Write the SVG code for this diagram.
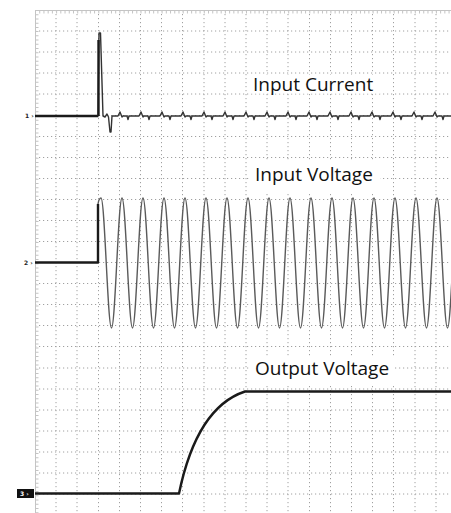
<svg xmlns="http://www.w3.org/2000/svg" width="451" height="513" viewBox="0 0 451 513">
<style>
.grid{fill:none;stroke:#a0a0a0;stroke-width:1;stroke-dasharray:1.2 2.8}
.border{fill:none;stroke:#c4c4c4;stroke-width:1}
.ticks{fill:none;stroke:#c4c4c4;stroke-width:3;stroke-dasharray:1 3.22}
.trace{fill:none;stroke:#1a1a1a;stroke-width:2.4;stroke-linejoin:round}
.thin{fill:none;stroke:#333;stroke-width:1.4;stroke-linejoin:round}
.sine{fill:none;stroke:#5a5a5a;stroke-width:1.4;stroke-linejoin:round}
.lbl{font-family:'Open Sans','Noto Sans',sans-serif;font-size:19px;fill:#111}
.ch{font-family:'DejaVu Sans',sans-serif;font-size:6px;font-weight:bold;fill:#222}
.bg{fill:#fff}
</style>
<rect width="451" height="513" fill="#fff"/>
<g id="grid">
<path class="grid" d="M35,31H451M35,52H451M35,73H451M35,94H451M35,115.5H451M35,136.5H451M35,157.5H451M35,178.5H451M35,199.5H451M35,220.5H451M35,241.5H451M35,262.5H451M35,283.5H451M35,304.5H451M35,325.5H451M35,346.5H451M35,368H451M35,389H451M35,410H451M35,431H451M35,452H451M35,473H451M35,494H451"/>
<path class="grid" d="M56,10V513M77,10V513M98.5,10V513M119.5,10V513M140.5,10V513M161.5,10V513M182.5,10V513M204,10V513M225,10V513M246,10V513M267,10V513M288,10V513M309.5,10V513M330.5,10V513M351.5,10V513M372.5,10V513M393.5,10V513M415,10V513M436,10V513"/>
<path class="border" d="M35,10.5H451M35.5,10V513"/>
<path class="ticks" d="M35,12H451"/>
<path class="ticks" d="M37,10V513"/>
</g>
<g id="labels-bg">
<rect class="bg" x="249" y="74.5" width="131" height="19"/>
<rect class="bg" x="250" y="161" width="130" height="33"/>
<rect class="bg" x="250" y="356" width="145" height="28"/>
</g>
<g id="channel-markers">
<text class="ch" x="25" y="118">1 ›</text>
<text class="ch" x="24" y="265">2 ›</text>
<rect x="17" y="489" width="17" height="9" fill="#111"/>
<text class="ch" x="20" y="496" style="fill:#fff">3 ›</text>
</g>
<g id="input-current">
<path class="trace" d="M35,116H98.5"/>
<path class="thin" d="M98,116L99,33L100.5,33L103,116L105,117L107,114L108.5,117L110,132L111,132L112,116l6,0 l2,-4 l2,5 l1,-1 l4,0 l1,3.5 l1,-3.5 l4,0l6,0 l2,-4 l2,5 l1,-1 l4,0 l1,3.5 l1,-3.5 l4,0l6,0 l2,-4 l2,5 l1,-1 l4,0 l1,3.5 l1,-3.5 l4,0l6,0 l2,-4 l2,5 l1,-1 l4,0 l1,3.5 l1,-3.5 l4,0l6,0 l2,-4 l2,5 l1,-1 l4,0 l1,3.5 l1,-3.5 l4,0l6,0 l2,-4 l2,5 l1,-1 l4,0 l1,3.5 l1,-3.5 l4,0l6,0 l2,-4 l2,5 l1,-1 l4,0 l1,3.5 l1,-3.5 l4,0l6,0 l2,-4 l2,5 l1,-1 l4,0 l1,3.5 l1,-3.5 l4,0l6,0 l2,-4 l2,5 l1,-1 l4,0 l1,3.5 l1,-3.5 l4,0l6,0 l2,-4 l2,5 l1,-1 l4,0 l1,3.5 l1,-3.5 l4,0l6,0 l2,-4 l2,5 l1,-1 l4,0 l1,3.5 l1,-3.5 l4,0l6,0 l2,-4 l2,5 l1,-1 l4,0 l1,3.5 l1,-3.5 l4,0l6,0 l2,-4 l2,5 l1,-1 l4,0 l1,3.5 l1,-3.5 l4,0l6,0 l2,-4 l2,5 l1,-1 l4,0 l1,3.5 l1,-3.5 l4,0l6,0 l2,-4 l2,5 l1,-1 l4,0 l1,3.5 l1,-3.5 l4,0l6,0 l2,-4 l2,5 l1,-1 l4,0 l1,3.5 l1,-3.5 l4,0L451,116"/>
<path class="trace" d="M98.5,116V40" stroke-width="2"/>
</g>
<g id="input-voltage">
<path class="trace" d="M35,262.5H98V204"/>
<path class="sine" d="M98,204Q99,198 101,198c1.89,0 3.495,30.9 5.25,65 c1.755,34.1 3.36,65 5.25,65 c1.89,0 3.495,-30.9 5.25,-65 c1.755,-34.1 3.36,-65 5.25,-65c1.89,0 3.495,30.9 5.25,65 c1.755,34.1 3.36,65 5.25,65 c1.89,0 3.495,-30.9 5.25,-65 c1.755,-34.1 3.36,-65 5.25,-65c1.89,0 3.495,30.9 5.25,65 c1.755,34.1 3.36,65 5.25,65 c1.89,0 3.495,-30.9 5.25,-65 c1.755,-34.1 3.36,-65 5.25,-65c1.89,0 3.495,30.9 5.25,65 c1.755,34.1 3.36,65 5.25,65 c1.89,0 3.495,-30.9 5.25,-65 c1.755,-34.1 3.36,-65 5.25,-65c1.89,0 3.495,30.9 5.25,65 c1.755,34.1 3.36,65 5.25,65 c1.89,0 3.495,-30.9 5.25,-65 c1.755,-34.1 3.36,-65 5.25,-65c1.89,0 3.495,30.9 5.25,65 c1.755,34.1 3.36,65 5.25,65 c1.89,0 3.495,-30.9 5.25,-65 c1.755,-34.1 3.36,-65 5.25,-65c1.89,0 3.495,30.9 5.25,65 c1.755,34.1 3.36,65 5.25,65 c1.89,0 3.495,-30.9 5.25,-65 c1.755,-34.1 3.36,-65 5.25,-65c1.89,0 3.495,30.9 5.25,65 c1.755,34.1 3.36,65 5.25,65 c1.89,0 3.495,-30.9 5.25,-65 c1.755,-34.1 3.36,-65 5.25,-65c1.89,0 3.495,30.9 5.25,65 c1.755,34.1 3.36,65 5.25,65 c1.89,0 3.495,-30.9 5.25,-65 c1.755,-34.1 3.36,-65 5.25,-65c1.89,0 3.495,30.9 5.25,65 c1.755,34.1 3.36,65 5.25,65 c1.89,0 3.495,-30.9 5.25,-65 c1.755,-34.1 3.36,-65 5.25,-65c1.89,0 3.495,30.9 5.25,65 c1.755,34.1 3.36,65 5.25,65 c1.89,0 3.495,-30.9 5.25,-65 c1.755,-34.1 3.36,-65 5.25,-65c1.89,0 3.495,30.9 5.25,65 c1.755,34.1 3.36,65 5.25,65 c1.89,0 3.495,-30.9 5.25,-65 c1.755,-34.1 3.36,-65 5.25,-65c1.89,0 3.495,30.9 5.25,65 c1.755,34.1 3.36,65 5.25,65 c1.89,0 3.495,-30.9 5.25,-65 c1.755,-34.1 3.36,-65 5.25,-65c1.89,0 3.495,30.9 5.25,65 c1.755,34.1 3.36,65 5.25,65 c1.89,0 3.495,-30.9 5.25,-65 c1.755,-34.1 3.36,-65 5.25,-65c1.89,0 3.495,30.9 5.25,65 c1.755,34.1 3.36,65 5.25,65 c1.89,0 3.495,-30.9 5.25,-65 c1.755,-34.1 3.36,-65 5.25,-65c1.89,0 3.495,30.9 5.25,65 c1.755,34.1 3.36,65 5.25,65 c1.89,0 3.495,-30.9 5.25,-65 c1.755,-34.1 3.36,-65 5.25,-65c1.89,0 3.495,30.9 5.25,65 c1.755,34.1 3.36,65 5.25,65 c1.89,0 3.495,-30.9 5.25,-65 c1.755,-34.1 3.36,-65 5.25,-65"/>
</g>
<g id="output-voltage">
<path class="trace" d="M35,493.5H179C187,455 204,405 245,391.5H451"/>
</g>
<g id="labels">
<text class="lbl" x="253" y="91">Input Current</text>
<text class="lbl" x="255" y="181">Input Voltage</text>
<text class="lbl" x="255" y="375">Output Voltage</text>
</g>
</svg>
